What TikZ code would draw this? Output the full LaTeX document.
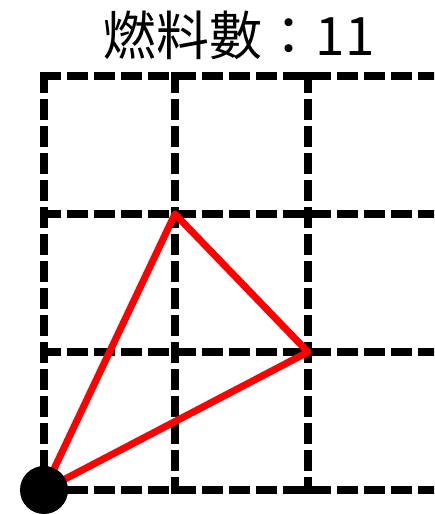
\documentclass[tikz,border=0pt]{standalone}
\usepackage{fontspec}
\newfontfamily\cjk{Noto Sans CJK TC}
\begin{document}
\begin{tikzpicture}[x=1pt,y=-1pt,
  gridline/.style={line width=8pt,dash pattern=on 21pt off 6pt},
  redline/.style={red,line width=7pt,line join=round},
  dot/.style={circle,fill=black,inner sep=0pt,minimum size=48pt}]
\useasboundingbox (0,0) rectangle (434,514);
\clip (0,0) rectangle (434,514);
\node (title) at (239,35) {\cjk\fontsize{53pt}{56pt}\selectfont 燃料數：11};
% grid
\foreach \y in {76,214,352,490} \draw[gridline] (40,\y) -- (440,\y);
\foreach \x in {44,175,308} \draw[gridline] (\x,72) -- (\x,494);
% triangle
\coordinate (a) at (44,490);
\coordinate (b) at (175,214);
\coordinate (c) at (308,352);
\draw[redline] (a) -- (b) -- (c) -- cycle;
\node[dot] (o) at (a) {};
\end{tikzpicture}
\end{document}
